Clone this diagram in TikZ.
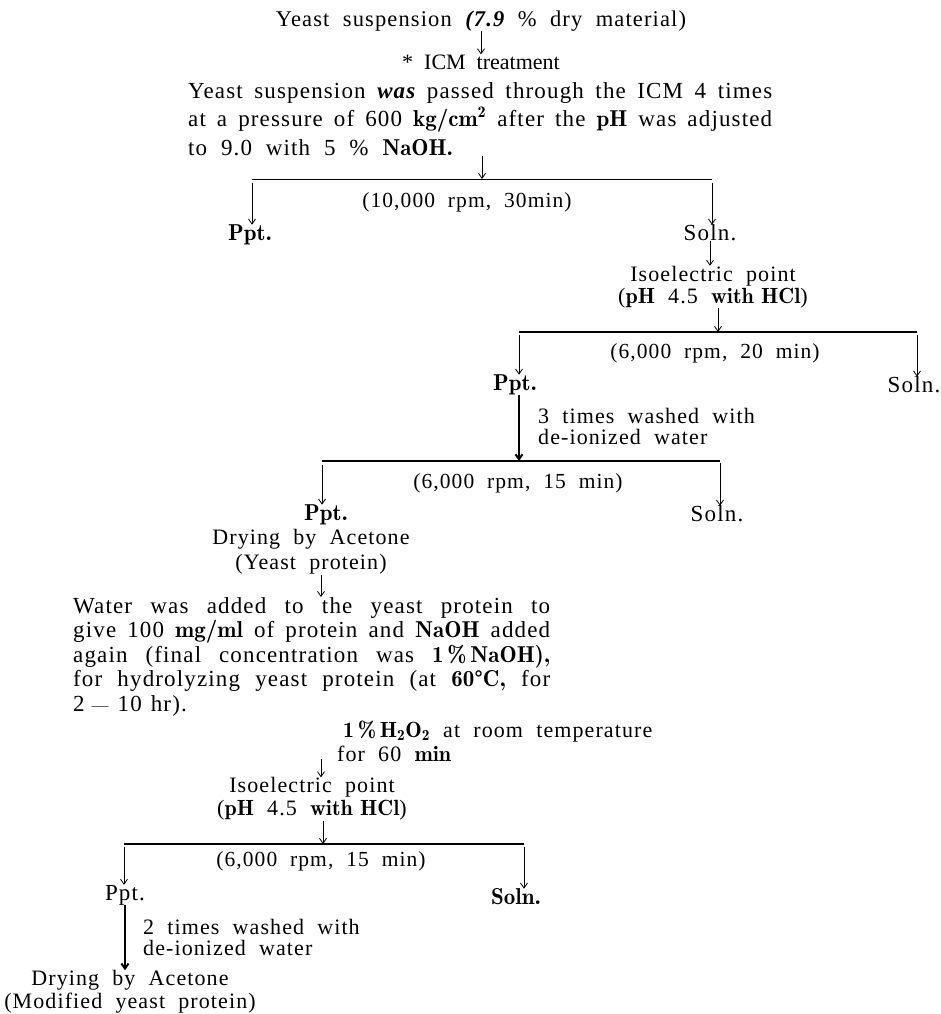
\documentclass[tikz,border=0pt]{standalone}
\usepackage{fontspec}
\setmainfont[LetterSpace=5,WordSpace=2]{Liberation Serif}
\usetikzlibrary{arrows.meta}
\newcommand{\altf}[1]{{\fontfamily{lmr}\fontseries{b}\selectfont #1}}

\tikzset{
  lbl/.style={inner sep=0pt, font=\fontsize{23}{23}\selectfont},
  spin/.style={lbl, font=\fontsize{21.5}{23}\selectfont},
  flow/.style={-{Straight Barb[length=5pt,width=7pt]}, line width=0.8pt},
  heavy/.style={flow, line width=2pt},
  bar/.style={line width=0.9pt},
  thickbar/.style={line width=2pt}
}

\begin{document}
\begin{tikzpicture}[x=1pt,y=-1pt]
\useasboundingbox (0,0) rectangle (941,1014);

% yeast suspension and ICM
\node[lbl, font=\fontsize{22.5}{23}\selectfont] (title) at (481,21) {Yeast suspension {\bfseries\itshape (7.9} \% dry material)};
\node[lbl, font=\fontsize{22}{23}\selectfont\addfontfeatures{LetterSpace=0}] (icm) at (481,62) {* ICM treatment};
\node[lbl, anchor=north west, text width=584pt, align=justify, font=\fontsize{23}{28.5}\selectfont] (adjust) at (188,82)
  {Yeast suspension {\bfseries\itshape was} passed through the ICM 4 times\linebreak at a pressure of 600 \altf{kg/cm\textsuperscript{2}} after the \altf{pH} was adjusted\linebreak to 9.0 with 5 \% \altf{NaOH.}};
\draw[flow] (title) -- (icm);

% first centrifuge
\coordinate (b1l) at (252,179);
\coordinate (b1m) at (482,179);
\coordinate (b1r) at (712,179);
\draw[flow] (adjust.south -| b1m) -- (b1m);
\draw[bar] (b1l) -- (b1r);
\node[spin] (rpm1) at (467,202) {(10,000 rpm, 30min)};
\node[lbl] (ppt1) at (250,235) {\altf{Ppt.}};
\node[lbl] (sol1) at (710,233) {Soln.};
\draw[flow, shorten <=4pt] (b1l) -- (b1l |- ppt1.north);
\draw[flow, shorten <=4pt] (b1r) -- (b1r |- sol1.north);

% isoelectric point
\node[lbl, align=center, font=\fontsize{22}{22}\selectfont] (iso1) at (713,287) {Isoelectric point\\(\altf{pH} 4.5 \altf{with HCl})};
\draw[flow] (sol1.south) -- (sol1.south |- iso1.north);

% second centrifuge
\coordinate (b2l) at (519,332);
\coordinate (b2m) at (718,332);
\coordinate (b2r) at (917,332);
\draw[flow] (iso1.south -| b2m) -- (b2m);
\draw[thickbar] (b2l) -- (b2r);
\node[spin] (rpm2) at (715,353) {(6,000 rpm, 20 min)};
\node[lbl] (ppt2) at (515,385) {\altf{Ppt.}};
\node[lbl] (sol2) at (914,385) {Soln.};
\draw[flow, shorten <=3pt] (b2l) -- (b2l |- ppt2.north);
\draw[flow, shorten <=3pt] (b2r) -- (b2r |- sol2.north);

% washing
\coordinate (b3l) at (322,461);
\coordinate (b3m) at (519,461);
\coordinate (b3r) at (720,461);
\draw[heavy] (ppt2.south -| b3m) -- (b3m);
\node[lbl, anchor=north west, align=left, font=\fontsize{22}{21}\selectfont] (wash1) at (538,408) {3 times washed with\\de-ionized water};

% third centrifuge
\draw[thickbar] (b3l) -- (b3r);
\node[spin] (rpm3) at (518,483) {(6,000 rpm, 15 min)};
\node[lbl] (ppt3) at (326,515) {\altf{Ppt.}};
\node[lbl] (sol3) at (717,514) {Soln.};
\draw[flow, shorten <=4pt] (b3l) -- (b3l |- ppt3.north);
\draw[flow, shorten <=2pt] (b3r) -- (b3r |- sol3.north);
\node[lbl, align=center, font=\fontsize{22}{25}\selectfont] (dry1) at (311,552) {Drying by Acetone\\(Yeast protein)};

% hydrolysis
\node[lbl, anchor=north west, text width=477pt, align=justify, font=\fontsize{23}{24.5}\selectfont] (hydro) at (73,597)
  {Water was added to the yeast protein to\linebreak give 100 \altf{mg/ml} of protein and \altf{NaOH} added\linebreak again (final concentration was \altf{1\,\%\,NaOH),}\linebreak for hydrolyzing yeast protein (at \altf{60\textdegree C,} for\linebreak 2\hspace{7pt}{\fontsize{17}{17}\selectfont\altf{---}}\hspace{9pt}10\hspace{9pt}hr).};
\draw[flow] ([xshift=10pt]dry1.south) -- ([xshift=10pt]dry1.south |- hydro.north);

% peroxide
\node[lbl, anchor=north west, align=left, font=\fontsize{22}{24}\selectfont] (perox) at (337,721)
  {\hspace*{6pt}\altf{1\,\%\,H\textsubscript{2}O\textsubscript{2}} at room temperature\\for 60 \altf{min}};
\node[lbl, align=center, font=\fontsize{22}{23}\selectfont] (iso2) at (312,799) {Isoelectric point\\(\altf{pH} 4.5 \altf{with HCl})};
\coordinate (pstart) at (321,759);
\draw[flow] (pstart) -- (pstart |- iso2.north);

% fourth centrifuge
\coordinate (b4l) at (124,844);
\coordinate (b4m) at (323,844);
\coordinate (b4r) at (524,844);
\draw[flow] (iso2.south -| b4m) -- (b4m);
\draw[thickbar] (b4l) -- (b4r);
\node[spin] (rpm4) at (321,861) {(6,000 rpm, 15 min)};
\node[lbl] (ppt4) at (125,895) {Ppt.};
\node[lbl] (sol4) at (516,897) {\altf{Soln.}};
\draw[flow, shorten <=3pt] (b4l) -- (b4l |- ppt4.north);
\draw[flow, shorten <=3pt] (b4r) -- (b4r |- sol4.north);

% final washing and drying
\node[lbl, anchor=north west, align=left, font=\fontsize{22}{21}\selectfont] (wash2) at (143,919) {2 times washed with\\de-ionized water};
\node[lbl, align=center, font=\fontsize{22}{23}\selectfont] (dry2) at (130,992) {Drying by Acetone\\(Modified yeast protein)};
\draw[heavy] (ppt4.south) -- (ppt4.south |- dry2.north);

\end{tikzpicture}
\end{document}
